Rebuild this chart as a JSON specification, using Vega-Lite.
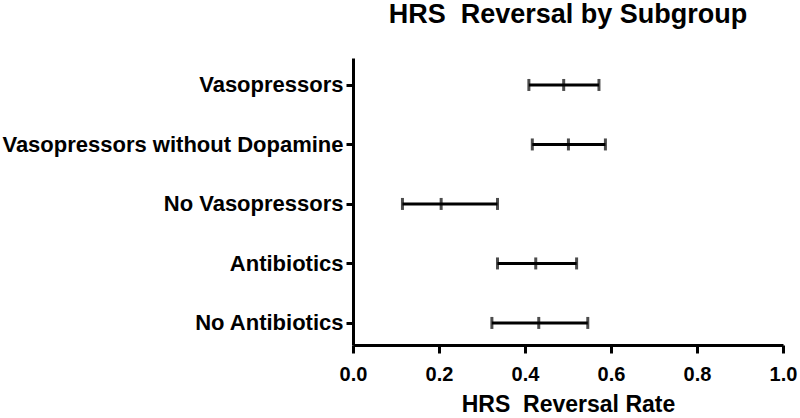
{
  "$schema": "https://vega.github.io/schema/vega-lite/v6.json",
  "autosize": "none",
  "width": 430,
  "height": 287,
  "padding": {"left": 353, "top": 58, "right": 17, "bottom": 73},
  "background": "white",
  "title": {"text": "HRS\u00a0\u00a0Reversal by Subgroup", "font": "Liberation Sans", "fontSize": 27, "fontWeight": "bold", "color": "black", "offset": 29, "anchor": "middle"},
  "config": {"view": {"stroke": null}},
  "data": {"values": [
    {"group": "Vasopressors", "lo": 0.409, "mid": 0.490, "hi": 0.572},
    {"group": "Vasopressors without Dopamine", "lo": 0.417, "mid": 0.501, "hi": 0.587},
    {"group": "No Vasopressors", "lo": 0.115, "mid": 0.205, "hi": 0.336},
    {"group": "Antibiotics", "lo": 0.336, "mid": 0.425, "hi": 0.520},
    {"group": "No Antibiotics", "lo": 0.323, "mid": 0.432, "hi": 0.546}
  ]},
  "encoding": {
    "y": {"field": "group", "type": "nominal", "sort": null,
      "scale": {"type": "point", "padding": 0.412, "align": 0.55},
      "axis": {"title": null, "domainWidth": 3, "domainColor": "black", "tickWidth": 3, "tickColor": "black", "tickSize": 7, "labelPadding": 3, "labelLimit": 400, "labelFont": "Liberation Sans", "labelFontSize": 22, "labelFontWeight": "bold", "labelColor": "black", "grid": false}}
  },
  "layer": [
    {"mark": {"type": "rule", "strokeWidth": 3, "color": "black"},
     "encoding": {
       "x": {"field": "lo", "type": "quantitative",
         "scale": {"domain": [0, 1], "nice": false, "zero": true},
         "axis": {"title": "HRS\u00a0\u00a0Reversal Rate", "values": [0, 0.2, 0.4, 0.6, 0.8, 1.0], "format": ".1f", "grid": false, "domainWidth": 3, "domainColor": "black", "tickWidth": 3, "tickColor": "black", "tickSize": 8, "labelPadding": 11, "labelFont": "Liberation Sans", "labelFontSize": 20, "labelFontWeight": "bold", "labelColor": "black", "labelFlush": false, "titleFont": "Liberation Sans", "titleFontSize": 23, "titleFontWeight": "bold", "titleColor": "black", "titlePadding": 9}},
       "x2": {"field": "hi"}
     }},
    {"mark": {"type": "tick", "orient": "vertical", "size": 12, "thickness": 3, "color": "black"},
     "encoding": {"x": {"field": "lo", "type": "quantitative"}}},
    {"mark": {"type": "tick", "orient": "vertical", "size": 12, "thickness": 3, "color": "black"},
     "encoding": {"x": {"field": "mid", "type": "quantitative"}}},
    {"mark": {"type": "tick", "orient": "vertical", "size": 12, "thickness": 3, "color": "black"},
     "encoding": {"x": {"field": "hi", "type": "quantitative"}}}
  ]
}
